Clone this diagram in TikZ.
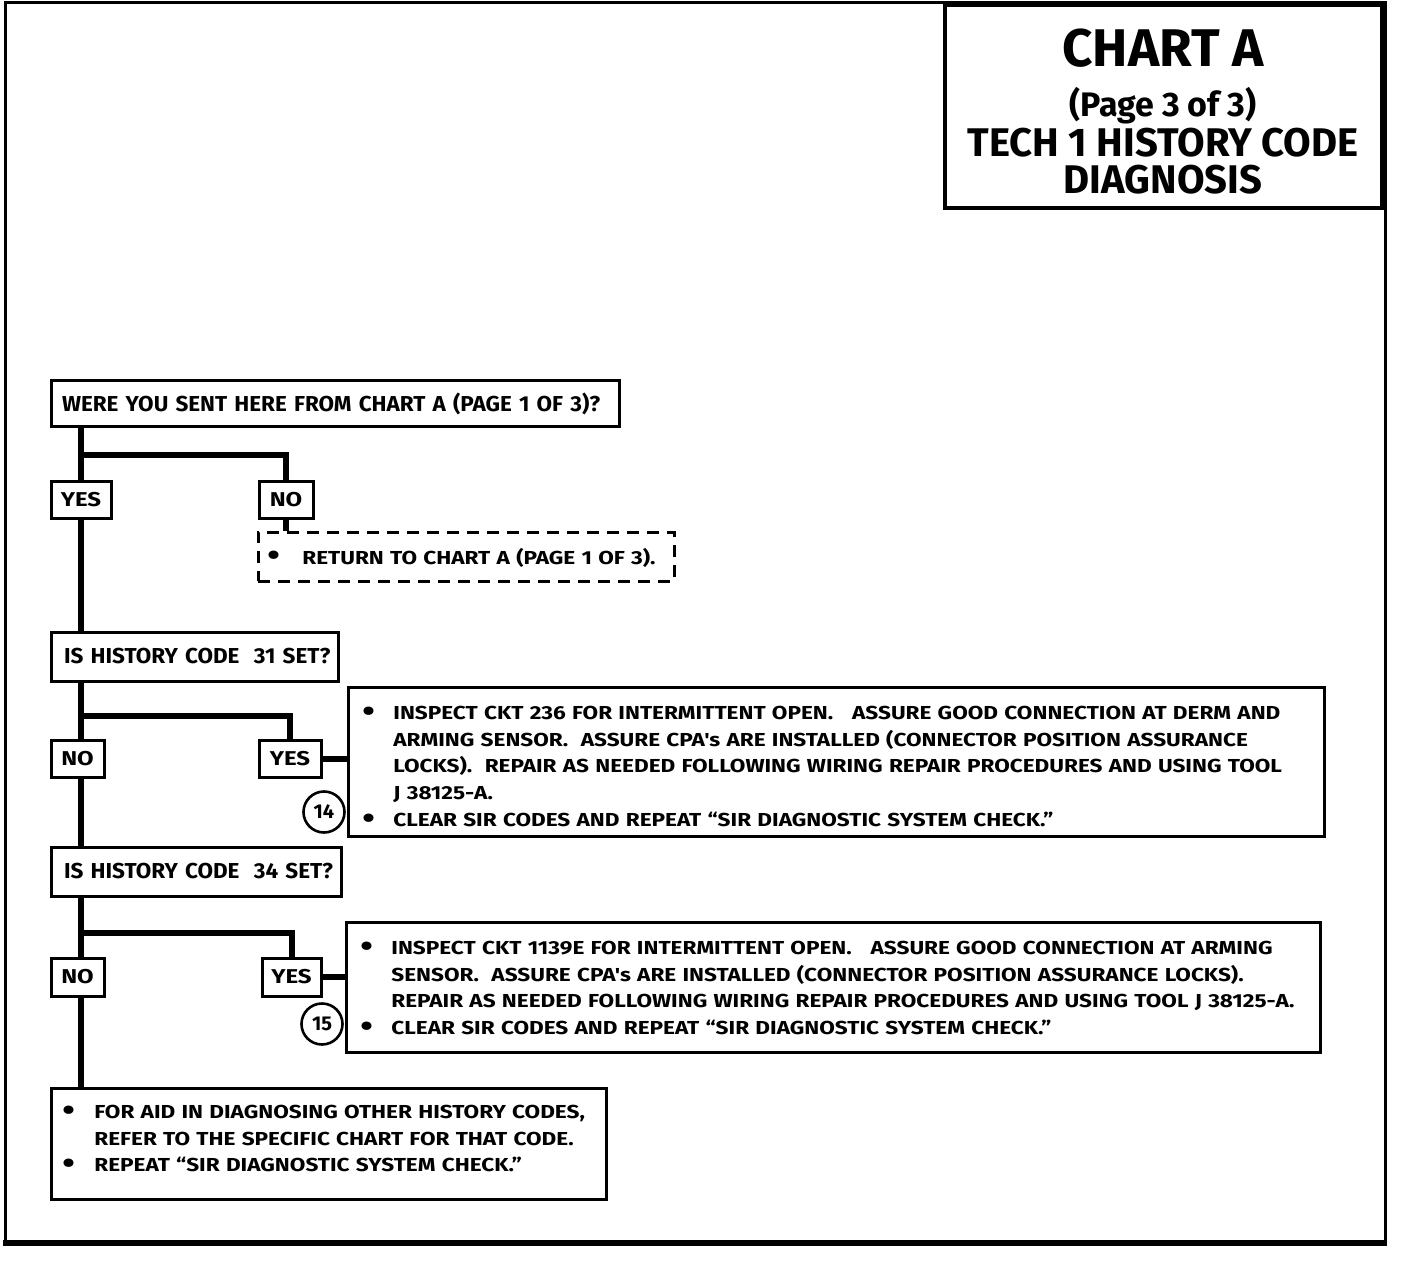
\documentclass[tikz,border=0pt]{standalone}
\usepackage{fontspec}
\setmainfont{Fira Sans}
\newfontfamily\bodyf{Fira Sans}[FakeStretch=1.2]
\newfontfamily\qf{Fira Sans}[FakeStretch=1.04]
\newfontfamily\titlef{Fira Sans}
\begin{document}
\begin{tikzpicture}[x=0.5pt,y=-0.5pt,
  box/.style={draw, line width=1.5pt, inner sep=0pt, rectangle},
  dbox/.style={draw, line width=1.5pt, inner sep=0pt, rectangle, dash pattern=on 6pt off 4pt},
  conn/.style={line width=3pt},
  lbl/.style={font=\bodyf\bfseries\fontsize{10}{12}\selectfont},
  qtxt/.style={font=\qf\bfseries\fontsize{10.8}{13}\selectfont, align=left, text width=#1},
  body/.style={font=\bodyf\bfseries\fontsize{9.4}{13.35}\selectfont, align=left, inner sep=0pt, anchor=base west, text width=490pt},
  num/.style={draw, circle, line width=1.3pt, minimum size=20.5pt, inner sep=0pt, font=\titlef\bfseries\fontsize{10}{11}\selectfont},
  ttl/.style={font=\titlef\bfseries, anchor=base, inner sep=0pt},
]
\useasboundingbox (0,0) rectangle (1408,1278);
\newcommand{\bdot}{\raisebox{-0.9pt}{\scalebox{1.6}{\textbullet}}}
\newcommand{\bul}{\makebox[15.5pt][l]{\bdot}}
\newcommand{\ind}{\hspace*{15.5pt}}
% frame
\draw[line width=1.5pt] (5,3) rectangle (1385,1243);
\draw[line width=3pt] (3,1243) -- (1387,1243);

% title
\node[box, line width=1.8pt, minimum width=218.5pt, minimum height=101.5pt] (title) at (1163.5,106.5) {};
\node[ttl, font=\titlef\bfseries\fontsize{26.5}{28}\selectfont] (t1) at (1163,66.5) {CHART A};
\node[ttl, font=\titlef\bfseries\fontsize{17}{19}\selectfont] (t2) at (1163,117) {(Page 3 of 3)};
\node[ttl, font=\titlef\bfseries\fontsize{20}{22}\selectfont] (t3) at (1163,157) {TECH 1 HISTORY CODE};
\node[ttl, font=\titlef\bfseries\fontsize{20}{22}\selectfont] (t4) at (1163,194) {DIAGNOSIS};

% question 1
\node[box, minimum width=284pt, minimum height=23pt, inner xsep=3pt, qtxt=278pt] (q1) at (335,404) {\hspace*{2.5pt}WERE YOU SENT HERE FROM CHART A (PAGE 1 OF 3)?};
\node[box, minimum width=30pt, minimum height=18.5pt, lbl] (yes1) at (81,499.5) {YES};
\node[box, minimum width=27pt, minimum height=18.5pt, lbl] (no1) at (286,499.5) {NO};
\node[dbox, minimum width=208pt, minimum height=24.5pt] (ret) at (466,556.5) {};
\node[body, text width=200pt] (rett) at (267,564) {\makebox[17.5pt][l]{\bdot}RETURN TO CHART A (PAGE 1 OF 3).};

% question 2
\node[box, minimum width=143.5pt, minimum height=24.5pt, inner xsep=2pt, qtxt=139.5pt] (q2) at (194.5,656.5) {\hspace*{4.5pt}IS HISTORY CODE\ \ 31 SET?};
\node[box, minimum width=26.5pt, minimum height=18.5pt, lbl] (no2) at (77.5,758.5) {NO};
\node[box, minimum width=31pt, minimum height=18.5pt, lbl] (yes2) at (290,758.5) {YES};
\node[box, minimum width=488pt, minimum height=74.5pt] (act1) at (836,761.5) {};
\node[body] (act1t) at (362,719.5) {\bul INSPECT CKT 236 FOR INTERMITTENT OPEN.\ \ \ ASSURE GOOD CONNECTION AT DERM AND\\
\ind ARMING SENSOR.\ \ ASSURE CPA's ARE INSTALLED (CONNECTOR POSITION ASSURANCE\\
\ind LOCKS).\ \ REPAIR AS NEEDED FOLLOWING WIRING REPAIR PROCEDURES AND USING TOOL\\
\ind J 38125-A.\\
\bul CLEAR SIR CODES AND REPEAT “SIR DIAGNOSTIC SYSTEM CHECK.”};
\node[num] (c14) at (324,812) {14};

% question 3
\node[box, minimum width=145pt, minimum height=24.5pt, inner xsep=2pt, qtxt=141pt] (q3) at (196,871.5) {\hspace*{4.5pt}IS HISTORY CODE\ \ 34 SET?};
\node[box, minimum width=26.5pt, minimum height=19pt, lbl] (no3) at (77.5,977) {NO};
\node[box, minimum width=29.5pt, minimum height=19pt, lbl] (yes3) at (291.5,977) {YES};
\node[box, minimum width=487pt, minimum height=65pt] (act2) at (833,987) {};
\node[body] (act2t) at (360,954.5) {\bul INSPECT CKT 1139E FOR INTERMITTENT OPEN.\ \ \ ASSURE GOOD CONNECTION AT ARMING\\
\ind SENSOR.\ \ ASSURE CPA's ARE INSTALLED (CONNECTOR POSITION ASSURANCE LOCKS).\\
\ind REPAIR AS NEEDED FOLLOWING WIRING REPAIR PROCEDURES AND USING TOOL J 38125-A.\\
\bul CLEAR SIR CODES AND REPEAT “SIR DIAGNOSTIC SYSTEM CHECK.”};
\node[num] (c15) at (322,1024) {15};

% final
\node[box, minimum width=277.5pt, minimum height=55.5pt] (fin) at (328.5,1143.5) {};
\node[body, text width=270pt] (fint) at (62,1118.5) {\makebox[16pt][l]{\bdot}FOR AID IN DIAGNOSING OTHER HISTORY CODES,\\
\hspace*{16pt}REFER TO THE SPECIFIC CHART FOR THAT CODE.\\
\makebox[16pt][l]{\bdot}REPEAT “SIR DIAGNOSTIC SYSTEM CHECK.”};

% connectors
\coordinate (br1) at (0,455);
\coordinate (br2) at (0,716);
\coordinate (br3) at (0,933);
\draw[conn] (yes1.north |- q1.south) -- (yes1.north);
\draw[conn] (yes1.north |- br1) -| (no1.north);
\draw[conn] (no1.south) -- (no1.south |- ret.north);
\draw[conn] (yes1.south) -- (yes1.south |- q2.north);
\draw[conn] (yes1.north |- q2.south) -- (yes1.north |- no2.north);
\draw[conn] (yes1.north |- br2) -| (yes2.north);
\draw[conn] (yes2.east) -- (yes2.east -| act1.west);
\draw[conn] (yes1.north |- no2.south) -- (yes1.north |- q3.north);
\draw[conn] (yes1.north |- q3.south) -- (yes1.north |- no3.north);
\draw[conn] (yes1.north |- br3) -| (yes3.north);
\draw[conn] (yes3.east) -- (yes3.east -| act2.west);
\draw[conn] (yes1.north |- no3.south) -- (yes1.north |- fin.north);
\end{tikzpicture}
\end{document}
